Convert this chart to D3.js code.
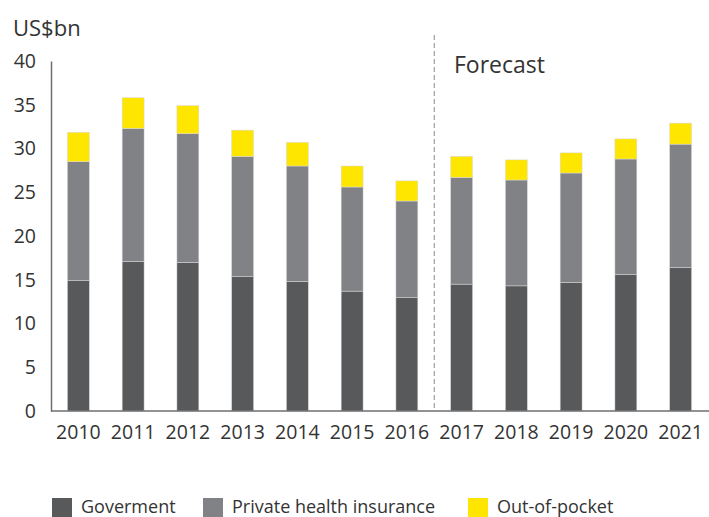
<!DOCTYPE html>
<html>
<head>
<meta charset="utf-8">
<script src="https://cdn.jsdelivr.net/npm/d3@7"></script>
<style>
  html, body { margin: 0; padding: 0; background: #fff; }
  svg { display: block; }
  text { font-family: "Open Sans", sans-serif; fill: #333; }
</style>
</head>
<body>
<svg id="chart" width="709" height="517"></svg>
<script>
// Healthcare spending by source, US$bn
const years = ["2010","2011","2012","2013","2014","2015","2016","2017","2018","2019","2020","2021"];
const government = [14.9, 17.1, 17.0, 15.35, 14.8, 13.7, 12.95, 14.5, 14.3, 14.7, 15.6, 16.4];
const privateInsurance = [13.6, 15.2, 14.7, 13.75, 13.2, 11.9, 11.05, 12.2, 12.1, 12.5, 13.2, 14.1];
const outOfPocket = [3.35, 3.5, 3.2, 3.0, 2.7, 2.4, 2.3, 2.4, 2.3, 2.3, 2.3, 2.4];
const yTicks = [0, 5, 10, 15, 20, 25, 30, 35, 40];
const seriesNames = ["Goverment", "Private health insurance", "Out-of-pocket"];
const seriesColors = ["#58595b", "#808285", "#ffe600"];
const firstForecastYear = "2017";

const svg = d3.select("#chart");
const plotLeft = 51, plotRight = 708, plotTop = 61, plotBottom = 411;

const x = d3.scaleBand().domain(years).range([plotLeft, plotRight]).paddingInner(0.6).paddingOuter(0.3);
const y = d3.scaleLinear().domain([0, 40]).range([plotBottom, plotTop]);

const rows = years.map((yr, i) => ({ year: yr, g: government[i], p: privateInsurance[i], o: outOfPocket[i] }));
const stack = d3.stack().keys(["g", "p", "o"]);
const layers = stack(rows);

svg.append("g").selectAll("g")
  .data(layers)
  .join("g")
  .attr("fill", (d, i) => seriesColors[i])
  .selectAll("rect")
  .data(d => d)
  .join("rect")
  .attr("x", d => x(d.data.year))
  .attr("width", x.bandwidth())
  .attr("y", d => y(d[1]))
  .attr("height", d => y(d[0]) - y(d[1]))
  .attr("stroke", "#d8d8d8")
  .attr("stroke-width", 0.5);

// Forecast divider between the last actual year and the first forecast year
const iF = years.indexOf(firstForecastYear);
const divX = (x(years[iF - 1]) + x.bandwidth() + x(years[iF])) / 2;
svg.append("line")
  .attr("x1", divX).attr("x2", divX)
  .attr("y1", 35).attr("y2", plotBottom)
  .attr("stroke", "#8a8a8a").attr("stroke-width", 1)
  .attr("stroke-dasharray", "5,3");

svg.append("text")
  .attr("x", 454).attr("y", 73)
  .attr("font-size", 23)
  .text("Forecast");

// Axes
const yAxis = d3.axisLeft(y).tickValues(yTicks).tickSize(0).tickPadding(15);
const gy = svg.append("g").attr("transform", `translate(${plotLeft},0)`).call(yAxis);
gy.select(".domain").attr("stroke", "#6d6e71").attr("stroke-width", 1.5);
gy.selectAll("text").attr("font-size", 19.5).attr("fill", "#333").style("font-family", "'Open Sans', sans-serif");

const xAxis = d3.axisBottom(x).tickSize(0).tickPadding(14);
const gx = svg.append("g").attr("transform", `translate(0,${plotBottom})`).call(xAxis);
gx.select(".domain").attr("stroke", "#6d6e71").attr("stroke-width", 1.5).attr("d", `M${plotLeft},0H709`);
gx.selectAll("text").attr("font-size", 19.5).attr("fill", "#333").style("font-family", "'Open Sans', sans-serif");

svg.append("text")
  .attr("x", 13).attr("y", 36)
  .attr("font-size", 22)
  .text("US$bn");

// Legend
const legendX = [52, 203, 468];
const lg = svg.append("g").selectAll("g")
  .data(seriesNames)
  .join("g")
  .attr("transform", (d, i) => `translate(${legendX[i]},498)`);
lg.append("rect").attr("width", 20).attr("height", 20).attr("fill", (d, i) => seriesColors[i]);
lg.append("text").attr("x", 29).attr("y", 14.5).attr("font-size", 18).text(d => d);
</script>
</body>
</html>
